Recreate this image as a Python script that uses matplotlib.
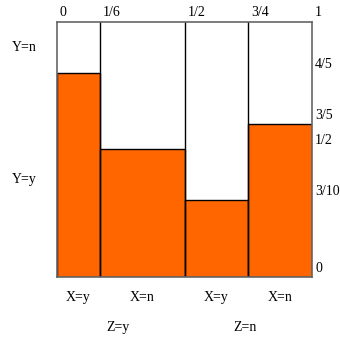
import matplotlib.pyplot as plt

# column boundaries (fractions of total width) and share of Y=y in each column
x_edges = [0, 1/6, 1/2, 3/4, 1]
x_tick_labels = ["0", "1/6", "1/2", "3/4", "1"]
y_share = [4/5, 1/2, 3/10, 3/5]
y_ticks = [0, 3/10, 1/2, 3/5, 4/5]
y_tick_labels = ["0", "3/10", "1/2", "3/5", "4/5"]
x_labels = ["X=y", "X=n", "X=y", "X=n"]
z_labels = ["Z=y", "Z=n"]
z_edges = [0, 1/2, 1]
y_labels = ["Y=y", "Y=n"]

plt.rcParams["font.family"] = ["Liberation Serif", "DejaVu Serif"]
plt.rcParams["font.size"] = 10

fig = plt.figure(figsize=(3.4, 3.37), dpi=100)
ax = fig.add_axes([57 / 340, 1 - 276.7 / 337, 255 / 340, 254.7 / 337])

widths = [x_edges[i + 1] - x_edges[i] for i in range(len(y_share))]
ax.bar(x_edges[:-1], y_share, width=widths, align="edge",
       color="#FF6600", edgecolor="black", linewidth=1, zorder=2)
for x in x_edges[1:-1]:
    ax.axvline(x, color="black", linewidth=1, zorder=3)

ax.set_xlim(0, 1)
ax.set_ylim(0, 1)
ax.set_xticks([])
ax.set_yticks([])
for s in ax.spines.values():
    s.set_color("#666666")
    s.set_linewidth(1.2)
    s.set_zorder(4)

# top labels: proportions of columns
for x, lab in zip(x_edges, x_tick_labels):
    ax.annotate(lab, (x, 1), xytext=(3, 3), textcoords="offset pixels",
                ha="left", va="bottom", annotation_clip=False)

# right labels: heights
for y, lab in zip(y_ticks, y_tick_labels):
    ax.annotate(lab, (1, y), xytext=(3, 2), textcoords="offset pixels",
                ha="left", va="bottom", annotation_clip=False)

# bottom labels
for i, lab in enumerate(x_labels):
    xc = (x_edges[i] + x_edges[i + 1]) / 2
    ax.annotate(lab, (xc, 0), xytext=(0, -21), textcoords="offset pixels",
                ha="center", va="center", annotation_clip=False)
for i, lab in enumerate(z_labels):
    xc = (z_edges[i] + z_edges[i + 1]) / 2
    ax.annotate(lab, (xc, 0), xytext=(-3, -51), textcoords="offset pixels",
                ha="center", va="center", annotation_clip=False)

# left labels
ax.annotate(y_labels[1], (0, 0.9), xytext=(-33, 0), textcoords="offset pixels",
            ha="center", va="center", annotation_clip=False)
ax.annotate(y_labels[0], (0, 0.38), xytext=(-33, 0), textcoords="offset pixels",
            ha="center", va="center", annotation_clip=False)

fig.savefig("out.png", dpi=100)
